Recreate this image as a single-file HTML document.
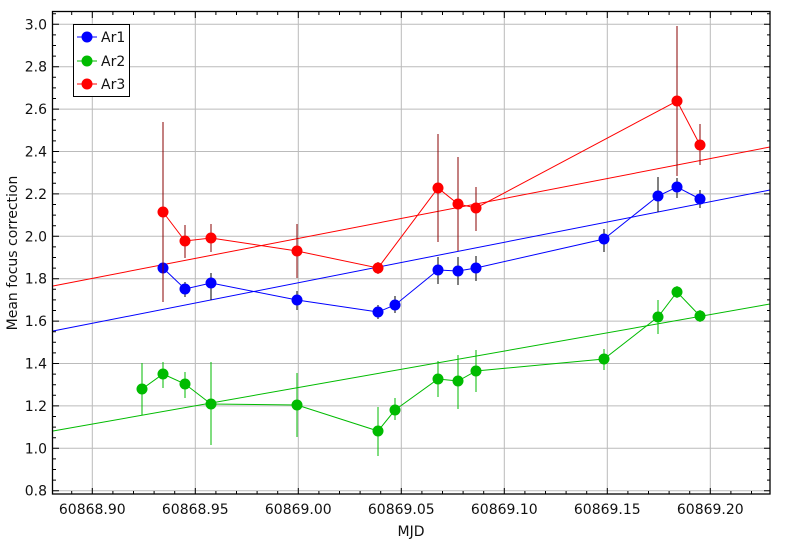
<!DOCTYPE html>
<html><head><meta charset="utf-8"><style>body{margin:0;background:#fff}svg{display:block;font-family:"DejaVu Sans","Liberation Sans",sans-serif}</style></head><body>
<svg width="806" height="542" xmlns="http://www.w3.org/2000/svg">
<g stroke="#bbb" stroke-width="1">
<line x1="92.3" y1="12" x2="92.3" y2="494"/><line x1="195.3" y1="12" x2="195.3" y2="494"/><line x1="298.3" y1="12" x2="298.3" y2="494"/><line x1="401.3" y1="12" x2="401.3" y2="494"/><line x1="504.3" y1="12" x2="504.3" y2="494"/><line x1="607.3" y1="12" x2="607.3" y2="494"/><line x1="710.3" y1="12" x2="710.3" y2="494"/>
<line x1="53" y1="490.7" x2="770" y2="490.7"/><line x1="53" y1="448.3" x2="770" y2="448.3"/><line x1="53" y1="405.9" x2="770" y2="405.9"/><line x1="53" y1="363.5" x2="770" y2="363.5"/><line x1="53" y1="321.1" x2="770" y2="321.1"/><line x1="53" y1="278.7" x2="770" y2="278.7"/><line x1="53" y1="236.3" x2="770" y2="236.3"/><line x1="53" y1="193.9" x2="770" y2="193.9"/><line x1="53" y1="151.5" x2="770" y2="151.5"/><line x1="53" y1="109.1" x2="770" y2="109.1"/><line x1="53" y1="66.7" x2="770" y2="66.7"/><line x1="53" y1="24.3" x2="770" y2="24.3"/>
</g>
<line x1="53" y1="331" x2="770" y2="190" stroke="#00f"/>
<line x1="53" y1="431" x2="770" y2="304" stroke="#0b0"/>
<line x1="53" y1="286" x2="770" y2="147" stroke="#f00"/>
<g stroke="#00f"><polyline fill="none" points="163,268 185,289 211,283 297,300 378,312 395,305 438,270 458,271 476,268 604,239 658,196 677,187 700,199"/></g>
<g stroke="#000"><path d="M163 255V282M185 282V297M211 273V300M297 291V310M378 305V319M395 296V313M438 257V284M458 257V285M476 256V281M604 229V252M658 177V212M677 178V198M700 190V208"/></g>
<g fill="#00f"><circle cx="163" cy="268" r="5.5"/><circle cx="185" cy="289" r="5.5"/><circle cx="211" cy="283" r="5.5"/><circle cx="297" cy="300" r="5.5"/><circle cx="378" cy="312" r="5.5"/><circle cx="395" cy="305" r="5.5"/><circle cx="438" cy="270" r="5.5"/><circle cx="458" cy="271" r="5.5"/><circle cx="476" cy="268" r="5.5"/><circle cx="604" cy="239" r="5.5"/><circle cx="658" cy="196" r="5.5"/><circle cx="677" cy="187" r="5.5"/><circle cx="700" cy="199" r="5.5"/></g>
<g stroke="#0b0"><polyline fill="none" points="142,389 163,374 185,384 211,404 297,405 378,431 395,410 438,379 458,381 476,371 604,359 658,317 677,292 700,316"/>
<path d="M142 363V415M163 362V388M185 372V398M211 362V445M297 373V437M378 407V456M395 398V420M438 361V397M458 355V409M476 350V392M604 349V370M658 300V334M677 286V298M700 310V322"/></g>
<g fill="#0b0"><circle cx="142" cy="389" r="5.5"/><circle cx="163" cy="374" r="5.5"/><circle cx="185" cy="384" r="5.5"/><circle cx="211" cy="404" r="5.5"/><circle cx="297" cy="405" r="5.5"/><circle cx="378" cy="431" r="5.5"/><circle cx="395" cy="410" r="5.5"/><circle cx="438" cy="379" r="5.5"/><circle cx="458" cy="381" r="5.5"/><circle cx="476" cy="371" r="5.5"/><circle cx="604" cy="359" r="5.5"/><circle cx="658" cy="317" r="5.5"/><circle cx="677" cy="292" r="5.5"/><circle cx="700" cy="316" r="5.5"/></g>
<g stroke="#f00"><polyline fill="none" points="163,212 185,241 211,238 297,251 378,268 438,188 458,204 476,208 677,101 700,145"/></g>
<g stroke="#800"><path d="M163 122V302M185 225V258M211 224V252M297 224V278M378 262V274M438 134V242M458 157V251M476 187V231M677 26V176M700 124V165"/></g>
<g fill="#f00"><circle cx="163" cy="212" r="5.5"/><circle cx="185" cy="241" r="5.5"/><circle cx="211" cy="238" r="5.5"/><circle cx="297" cy="251" r="5.5"/><circle cx="378" cy="268" r="5.5"/><circle cx="438" cy="188" r="5.5"/><circle cx="458" cy="204" r="5.5"/><circle cx="476" cy="208" r="5.5"/><circle cx="677" cy="101" r="5.5"/><circle cx="700" cy="145" r="5.5"/></g>
<rect x="52.5" y="11.5" width="717.5" height="482.5" fill="none" stroke="#000" stroke-width="1.3"/>
<g stroke="#000">
<path d="M92.3 494v-6M195.3 494v-6M298.3 494v-6M401.3 494v-6M504.3 494v-6M607.3 494v-6M710.3 494v-6M92.3 12v6M195.3 12v6M298.3 12v6M401.3 12v6M504.3 12v6M607.3 12v6M710.3 12v6"/>
<path d="M71.7 494v-3M112.9 494v-3M133.5 494v-3M154.1 494v-3M174.7 494v-3M215.9 494v-3M236.5 494v-3M257.1 494v-3M277.7 494v-3M318.9 494v-3M339.5 494v-3M360.1 494v-3M380.7 494v-3M421.9 494v-3M442.5 494v-3M463.1 494v-3M483.7 494v-3M524.9 494v-3M545.5 494v-3M566.1 494v-3M586.7 494v-3M627.9 494v-3M648.5 494v-3M669.1 494v-3M689.7 494v-3M730.9 494v-3M751.5 494v-3"/>
<path d="M71.7 12v3M112.9 12v3M133.5 12v3M154.1 12v3M174.7 12v3M215.9 12v3M236.5 12v3M257.1 12v3M277.7 12v3M318.9 12v3M339.5 12v3M360.1 12v3M380.7 12v3M421.9 12v3M442.5 12v3M463.1 12v3M483.7 12v3M524.9 12v3M545.5 12v3M566.1 12v3M586.7 12v3M627.9 12v3M648.5 12v3M669.1 12v3M689.7 12v3M730.9 12v3M751.5 12v3"/>
<path d="M53 490.7h6M53 448.3h6M53 405.9h6M53 363.5h6M53 321.1h6M53 278.7h6M53 236.3h6M53 193.9h6M53 151.5h6M53 109.1h6M53 66.7h6M53 24.3h6M770 490.7h-6M770 448.3h-6M770 405.9h-6M770 363.5h-6M770 321.1h-6M770 278.7h-6M770 236.3h-6M770 193.9h-6M770 151.5h-6M770 109.1h-6M770 66.7h-6M770 24.3h-6"/>
<path d="M53 480.1h3M53 469.5h3M53 458.9h3M53 437.7h3M53 427.1h3M53 416.5h3M53 395.3h3M53 384.7h3M53 374.1h3M53 352.9h3M53 342.3h3M53 331.7h3M53 310.5h3M53 299.9h3M53 289.3h3M53 268.1h3M53 257.5h3M53 246.9h3M53 225.7h3M53 215.1h3M53 204.5h3M53 183.3h3M53 172.7h3M53 162.1h3M53 140.9h3M53 130.3h3M53 119.7h3M53 98.5h3M53 87.9h3M53 77.3h3M53 56.1h3M53 45.5h3M53 34.9h3M53 13.7h3"/>
<path d="M770 480.1h-3M770 469.5h-3M770 458.9h-3M770 437.7h-3M770 427.1h-3M770 416.5h-3M770 395.3h-3M770 384.7h-3M770 374.1h-3M770 352.9h-3M770 342.3h-3M770 331.7h-3M770 310.5h-3M770 299.9h-3M770 289.3h-3M770 268.1h-3M770 257.5h-3M770 246.9h-3M770 225.7h-3M770 215.1h-3M770 204.5h-3M770 183.3h-3M770 172.7h-3M770 162.1h-3M770 140.9h-3M770 130.3h-3M770 119.7h-3M770 98.5h-3M770 87.9h-3M770 77.3h-3M770 56.1h-3M770 45.5h-3M770 34.9h-3M770 13.7h-3"/>
</g>
<g font-size="14" fill="#111" text-anchor="end">
<text x="47" y="495.7">0.8</text><text x="47" y="453.3">1.0</text><text x="47" y="410.9">1.2</text><text x="47" y="368.5">1.4</text><text x="47" y="326.1">1.6</text><text x="47" y="283.7">1.8</text><text x="47" y="241.3">2.0</text><text x="47" y="198.9">2.2</text><text x="47" y="156.5">2.4</text><text x="47" y="114.1">2.6</text><text x="47" y="71.7">2.8</text><text x="47" y="29.3">3.0</text>
</g>
<g font-size="14" fill="#111" text-anchor="middle">
<text x="92.3" y="514">60868.90</text><text x="195.3" y="514">60868.95</text><text x="298.3" y="514">60869.00</text><text x="401.3" y="514">60869.05</text><text x="504.3" y="514">60869.10</text><text x="607.3" y="514">60869.15</text><text x="710.3" y="514">60869.20</text>
<text x="411" y="536">MJD</text>
<text transform="translate(17,253) rotate(-90)">Mean focus correction</text>
</g>
<rect x="73.5" y="24.5" width="56" height="72" fill="#fff" stroke="#000"/>
<g font-size="14" fill="#111">
<line x1="77" y1="37" x2="97" y2="37" stroke="#00f"/><circle cx="87" cy="37" r="5.5" fill="#00f"/><text x="101" y="42">Ar1</text>
<line x1="77" y1="61" x2="97" y2="61" stroke="#0b0"/><circle cx="87" cy="61" r="5.5" fill="#0b0"/><text x="101" y="66">Ar2</text>
<line x1="77" y1="84" x2="97" y2="84" stroke="#f00"/><circle cx="87" cy="84" r="5.5" fill="#f00"/><text x="101" y="89">Ar3</text>
</g>
</svg>
</body></html>
